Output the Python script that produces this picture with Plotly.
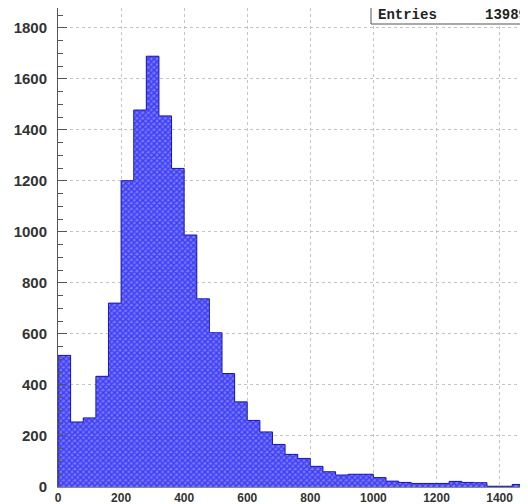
import numpy as np
import plotly.graph_objects as go

bin_width = 40
bin_start = 0
counts = [516, 255, 271, 434, 721, 1201, 1478, 1689, 1455, 1249,
          988, 738, 605, 445, 334, 261, 216, 167, 128, 112,
          81, 60, 47, 50, 50, 37, 23, 18, 14, 14,
          14, 22, 18, 17, 3, 3, 10, 8]
entries = 13989

x_ticks = [0, 200, 400, 600, 800, 1000, 1200, 1400]
y_ticks = [0, 200, 400, 600, 800, 1000, 1200, 1400, 1600, 1800]

counts = np.array(counts)
edges = bin_start + bin_width * np.arange(len(counts) + 1)
centers = edges[:-1] + bin_width / 2

fig = go.Figure()
fig.add_trace(go.Bar(
    x=centers, y=counts, width=bin_width,
    marker=dict(color="#7878ff", line=dict(width=0),
                pattern=dict(shape="x", fgcolor="#0000e6", size=4, solidity=0.6)),
    showlegend=False, hoverinfo="skip"))
# histogram outline (step)
step_x = np.concatenate([[edges[0]], edges])
step_y = np.concatenate([[0], counts, [counts[-1]]])
fig.add_trace(go.Scatter(
    x=step_x, y=step_y, mode="lines", line=dict(shape="hv", color="#1a1ab0", width=1),
    showlegend=False, hoverinfo="skip"))

# the page body has an 8px margin; the figure is sized to fill the rest of the window
W, H = 520, 496
L, T, B, R = 50, 0, 17, 0
fig.update_layout(
    width=W, height=H,
    margin=dict(l=L, r=R, t=T, b=B, autoexpand=False),
    paper_bgcolor="white", plot_bgcolor="white",
    bargap=0,
    font=dict(family="Liberation Sans", size=14, color="#333333"),
    xaxis=dict(range=[0, 1490], tickvals=x_ticks, ticktext=[f"<b>{v}</b>" for v in x_ticks],
               showgrid=True, gridcolor="#c4c4c4", griddash="dot", gridwidth=1,
               showline=True, linecolor="#888888", linewidth=1, mirror=True,
               ticks="", zeroline=False, automargin=False, ticklabelstandoff=0,
               tickfont=dict(size=12, color="#333333")),
    yaxis=dict(range=[0, 1878], tickvals=y_ticks, ticktext=[f"<b>{v}</b>" for v in y_ticks],
               showgrid=True, gridcolor="#c4c4c4", griddash="dot", gridwidth=1,
               showline=True, linecolor="#555555", linewidth=1,
               ticks="inside", ticklen=9, tickcolor="#555555", tickwidth=1,
               minor=dict(ticks="inside", dtick=50, ticklen=5, tickcolor="#555555", showgrid=False),
               zeroline=False, automargin=False, ticklabelstandoff=7,
               tickfont=dict(size=15, color="#333333")),
)

# stats box (positions in page pixels, converted to paper coords)
OFF = 8
def px2x(px):
    return (px - OFF - L) / (W - L - R)

def py2y(py):
    return 1 - (py - OFF - T) / (H - T - B)

fig.add_shape(type="rect", xref="paper", yref="paper",
              x0=px2x(371), x1=px2x(545), y0=py2y(24), y1=py2y(7),
              line=dict(color="#555555", width=1), fillcolor="rgba(255,255,255,0.85)", layer="above")
fig.add_annotation(xref="paper", yref="paper", x=px2x(376), y=py2y(15.5),
                   text="<b>Entries</b>", showarrow=False, xanchor="left", yanchor="middle",
                   font=dict(family="Liberation Mono", size=14, color="#222222"))
fig.add_annotation(xref="paper", yref="paper", x=px2x(529), y=py2y(15.5),
                   text=f"<b>{entries}</b>", showarrow=False, xanchor="right", yanchor="middle",
                   font=dict(family="Liberation Mono", size=14, color="#222222"))

fig.write_html("out.html")
